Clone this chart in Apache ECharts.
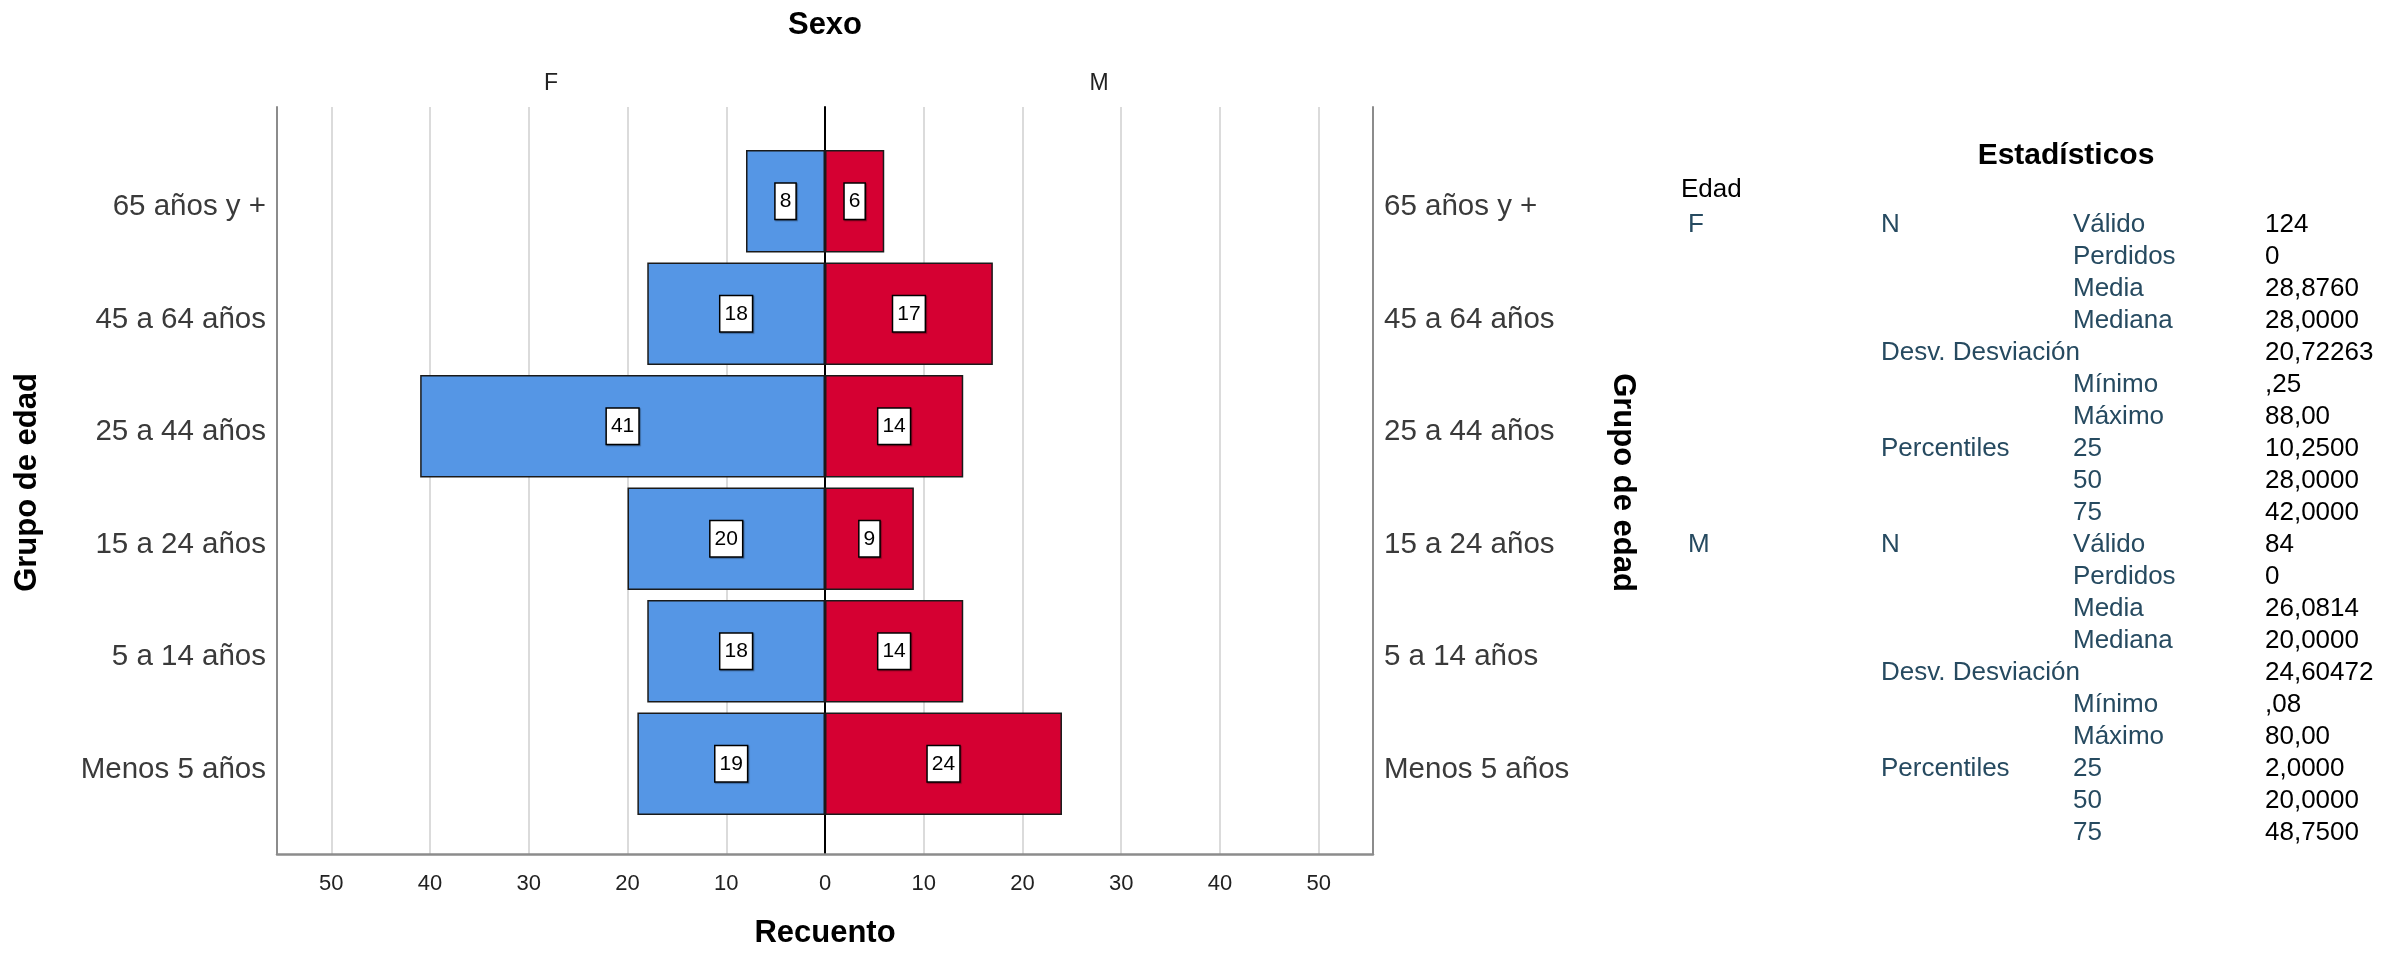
<!DOCTYPE html>
<html>
<head>
<meta charset="utf-8">
<script src="https://cdn.jsdelivr.net/npm/echarts@6/dist/echarts.min.js"></script>
<style>html,body{margin:0;padding:0;background:#fff}#c{width:2397px;height:954px}</style>
</head>
<body>
<div id="c"></div>
<script>
// ---- data ----
const categories = ['65 años y +', '45 a 64 años', '25 a 44 años', '15 a 24 años', '5 a 14 años', 'Menos 5 años'];
const sexes = ['F', 'M'];
const femaleCounts = [8, 18, 41, 20, 18, 19];
const maleCounts = [6, 17, 14, 9, 14, 24];
const axisMax = 55.5;

const tableTitle = 'Estadísticos';
const tableVariable = 'Edad';
const statGroups = ['N', '', '', '', 'Desv. Desviación', '', '', 'Percentiles', '', ''];
const statNames = ['Válido', 'Perdidos', 'Media', 'Mediana', '', 'Mínimo', 'Máximo', '25', '50', '75'];
const femaleStats = ['124', '0', '28,8760', '28,0000', '20,72263', ',25', '88,00', '10,2500', '28,0000', '42,0000'];
const maleStats = ['84', '0', '26,0814', '20,0000', '24,60472', ',08', '80,00', '2,0000', '20,0000', '48,7500'];

// ---- chart ----
const FONT = '"Liberation Sans", Arial, sans-serif';
const chart = echarts.init(document.getElementById('c'), null, { renderer: 'canvas' });

const titleStyle = { fontSize: 31, fontWeight: 'bold', color: '#000', fontFamily: FONT };
const frameColor = '#8c8c8c';

const graphics = [];
const colX = { group: 1688, stat: 1881, sub: 2073, val: 2265 };
const row0 = 225, rowH = 32;
const labelColor = '#264A60';
function txt(x, y, text, color, size, weight, align) {
  graphics.push({
    type: 'text', x: x, y: y, silent: true,
    style: { text: text, fill: color, fontSize: size, fontWeight: weight || 'normal',
             fontFamily: FONT, align: align || 'left', verticalAlign: 'middle' }
  });
}
txt(2066, 156, tableTitle, '#000', 30, 'bold', 'center');
txt(1681, 190, tableVariable, '#000', 26);
[femaleStats, maleStats].forEach(function (stats, g) {
  const base = row0 + g * statNames.length * rowH;
  txt(colX.group, base, sexes[g], labelColor, 26);
  statNames.forEach(function (s, i) {
    const y = base + i * rowH;
    if (statGroups[i]) txt(colX.stat, y, statGroups[i], labelColor, 26);
    if (s) txt(colX.sub, y, s, labelColor, 26);
    txt(colX.val, y, stats[i], '#000', 26);
  });
});

const barLabel = {
  show: true, position: 'inside',
  formatter: function (p) { return String(Math.abs(p.value)); },
  fontSize: 21, color: '#000', fontFamily: FONT,
  backgroundColor: '#fff', borderColor: '#000', borderWidth: 1.5,
  padding: [7, 4, 7, 4], lineHeight: 21,
  shadowColor: 'rgba(0,0,0,0.35)', shadowOffsetX: 1, shadowOffsetY: 1, shadowBlur: 1
};

const catLabel = {
  margin: 11, fontFamily: FONT,
  formatter: function (v) { return '{c|' + v + '}'; },
  rich: { c: { fontSize: 29.5, color: '#3a3a3a', fontFamily: FONT, padding: [12, 0, 0, 0] } }
};

const option = {
  animation: false,
  backgroundColor: '#fff',
  textStyle: { fontFamily: FONT },
  grid: [
    { left: 277, right: 1024, top: 107, bottom: 96 },
    { left: 277, right: 1024, top: 145, bottom: 134 }
  ],
  xAxis: [
    {
      gridIndex: 0, type: 'value', position: 'bottom', min: -axisMax, max: axisMax,
      splitNumber: 11, minInterval: 10, maxInterval: 10,
      axisLine: { show: true, onZero: false, lineStyle: { color: frameColor, width: 2.5 } },
      axisTick: { show: false },
      axisLabel: { margin: 19, fontSize: 22, color: '#222', fontFamily: FONT,
        formatter: function (v) { return Math.abs(v) % 10 === 0 ? String(Math.abs(v)) : ''; } },
      splitLine: { show: true, lineStyle: { color: '#cfcfcf', width: 1.5 } },
      name: 'Recuento', nameLocation: 'middle', nameGap: 64, nameTextStyle: titleStyle
    },
    {
      gridIndex: 0, type: 'category', position: 'top', data: sexes,
      axisLine: { show: false, onZero: false }, axisTick: { show: false },
      axisLabel: { margin: 12, fontSize: 23, color: '#222', fontFamily: FONT },
      splitLine: { show: false },
      name: 'Sexo', nameLocation: 'middle', nameGap: 66, nameTextStyle: titleStyle
    },
    { gridIndex: 1, type: 'value', min: -axisMax, max: axisMax, show: false }
  ],
  yAxis: [
    {
      gridIndex: 0, type: 'category', data: categories, inverse: true,
      axisLine: { show: true, onZero: true, lineStyle: { color: '#000', width: 2 } },
      axisTick: { show: false }, axisLabel: { show: false }, splitLine: { show: false }
    },
    {
      gridIndex: 0, type: 'value', position: 'left', min: 0, max: 1,
      axisLine: { show: true, onZero: false, lineStyle: { color: frameColor, width: 2 } },
      axisTick: { show: false }, axisLabel: { show: false }, splitLine: { show: false }
    },
    {
      gridIndex: 0, type: 'value', position: 'right', min: 0, max: 1,
      axisLine: { show: true, onZero: false, lineStyle: { color: frameColor, width: 2 } },
      axisTick: { show: false }, axisLabel: { show: false }, splitLine: { show: false }
    },
    {
      gridIndex: 1, type: 'category', data: categories, inverse: true, position: 'left',
      axisLine: { show: false, onZero: false }, axisTick: { show: false }, splitLine: { show: false },
      axisLabel: catLabel,
      name: 'Grupo de edad', nameLocation: 'middle', nameRotate: 90, nameGap: 234, nameTextStyle: titleStyle
    },
    {
      gridIndex: 1, type: 'category', data: categories, inverse: true, position: 'right',
      axisLine: { show: false, onZero: false }, axisTick: { show: false }, splitLine: { show: false },
      axisLabel: catLabel,
      name: 'Grupo de edad', nameLocation: 'middle', nameRotate: -90, nameGap: 234, nameTextStyle: titleStyle
    }
  ],
  series: [
    {
      name: 'F', type: 'bar', xAxisIndex: 2, yAxisIndex: 3, stack: 'pyr',
      data: femaleCounts.map(function (v) { return -v; }),
      barCategoryGap: '9%',
      itemStyle: { color: '#5596E5', borderColor: '#1a1a1a', borderWidth: 1.5 },
      label: barLabel
    },
    {
      name: 'M', type: 'bar', xAxisIndex: 2, yAxisIndex: 3, stack: 'pyr',
      data: maleCounts,
      barCategoryGap: '9%',
      itemStyle: { color: '#D50032', borderColor: '#1a1a1a', borderWidth: 1.5 },
      label: barLabel
    }
  ],
  graphic: graphics
};
chart.setOption(option);
</script>
</body>
</html>
